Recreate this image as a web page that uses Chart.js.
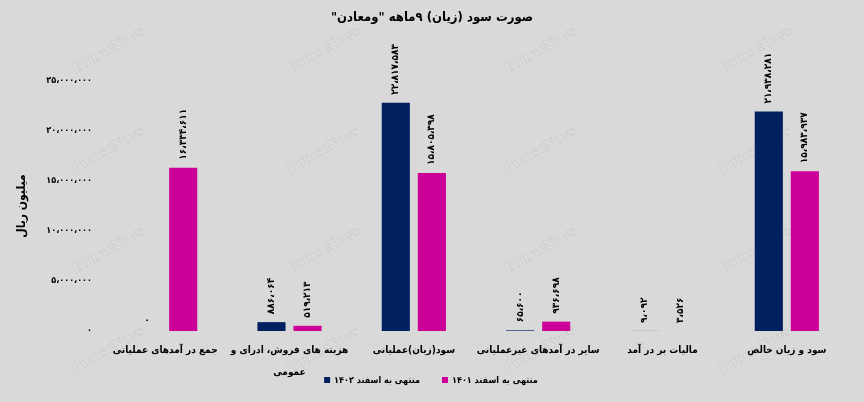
<!DOCTYPE html>
<html>
<head>
<meta charset="utf-8">
<script src="https://cdn.jsdelivr.net/npm/chart.js@4/dist/chart.umd.min.js"></script>
<style>
  html, body { margin: 0; padding: 0; background: #d9d9d9; }
  #wrap { width: 864px; height: 402px; }
</style>
</head>
<body>
<div id="wrap"><canvas id="profitChart"></canvas></div>
<script>
// Chart data
const categories = [
  "جمع در آمدهای عملیاتی",
  ["هزینه های فروش، ادرای و", "عمومی"],
  "سود(زیان)عملیاتی",
  "سایر در آمدهای غیرعملیاتی",
  "مالیات بر در آمد",
  "سود و زیان خالص"
];
const seriesNames = ["منتهی به اسفند ۱۴۰۲", "منتهی به اسفند ۱۴۰۱"];
const values1402 = [0, 886064, 22817583, 65600, 9092, 21938281];
const values1401 = [16334611, 519213, 15805398, 936698, 3526, 15983937];
const yTicks = [0, 5000000, 10000000, 15000000, 20000000, 25000000];

const titleText = "صورت سود (زیان) ۹ماهه \"ومعادن\"";
const yAxisTitle = "میلیون ریال";
const FONT = "'DejaVu Sans Condensed', 'DejaVu Sans', sans-serif";

// Persian digits with Arabic comma separators
function toFa(n) {
  const s = Math.round(n).toString().replace(/\B(?=(\d{3})+(?!\d))/g, "،");
  return s.replace(/\d/g, d => "۰۱۲۳۴۵۶۷۸۹"[d]);
}

// background, watermark, title, legend
const decorPlugin = {
  id: "decor",
  beforeDraw(chart) {
    const c = chart.ctx;
    c.save();
    c.fillStyle = "#d9d9d9";
    c.fillRect(0, 0, chart.width, chart.height);
    c.font = "bold 15px 'Liberation Serif', serif";
    c.fillStyle = "#e2e2e2";
    c.strokeStyle = "rgba(185,185,185,0.45)";
    c.lineWidth = 0.6;
    c.textAlign = "center";
    c.textBaseline = "middle";
    [108, 323, 540, 755].forEach(x => {
      [50, 150, 250, 350].forEach(y => {
        c.save();
        c.translate(x, y);
        c.rotate(-Math.PI / 6);
        c.fillText("BourseNews", 0, 0);
        c.strokeText("BourseNews", 0, 0);
        c.restore();
      });
    });
    c.restore();
  },
  afterDraw(chart) {
    const c = chart.ctx;
    c.save();
    c.direction = "rtl";
    c.font = "bold 13px " + FONT;
    c.fillStyle = "#000";
    c.textAlign = "center";
    c.textBaseline = "middle";
    c.fillText(titleText, 432, 18);

    // legend: box on the left of each item, items left to right
    c.font = "bold 9px " + FONT;
    const box = 6, gap = 4, itemGap = 22;
    const items = chart.data.datasets.map(ds => ({
      text: ds.label, color: ds.backgroundColor, w: c.measureText(ds.label).width
    }));
    const total = items.reduce((s, it) => s + box + gap + it.w, 0) + itemGap * (items.length - 1);
    let x = 431 - total / 2;
    const y = 381;
    items.forEach(it => {
      c.fillStyle = it.color;
      c.fillRect(x, y - box / 2 - 1, box, box);
      c.fillStyle = "#000";
      c.textAlign = "right";
      c.fillText(it.text, x + box + gap + it.w, y);
      x += box + gap + it.w + itemGap;
    });
    c.restore();
  }
};

// vertical value labels above each bar
const valueLabels = {
  id: "valueLabels",
  afterDatasetsDraw(chart) {
    const c = chart.ctx;
    c.save();
    c.font = "bold 10px " + FONT;
    c.fillStyle = "#000";
    c.textAlign = "left";
    c.textBaseline = "middle";
    chart.data.datasets.forEach((ds, i) => {
      chart.getDatasetMeta(i).data.forEach((bar, j) => {
        c.save();
        c.translate(bar.x, bar.y - 8);
        c.rotate(-Math.PI / 2);
        c.fillText(toFa(ds.data[j]), 0, 0);
        c.restore();
      });
    });
    c.restore();
  }
};

new Chart(document.getElementById("profitChart"), {
  type: "bar",
  data: {
    labels: categories,
    datasets: [
      { label: seriesNames[0], data: values1402, backgroundColor: "#002060" },
      { label: seriesNames[1], data: values1401, backgroundColor: "#cc0099" }
    ]
  },
  options: {
    responsive: true,
    maintainAspectRatio: false,
    animation: false,
    layout: { padding: { top: 81, right: 15, bottom: 11, left: 0 } },
    datasets: { bar: { categoryPercentage: 0.58, barPercentage: 0.78 } },
    scales: {
      x: {
        grid: { display: false, drawTicks: false },
        border: { display: false },
        ticks: {
          color: "#000",
          padding: 8,
          maxRotation: 0,
          autoSkip: false,
          font: { family: FONT, size: 10, weight: "bold", lineHeight: 2.2 }
        },
        afterFit(axis) { axis.height = 60; }
      },
      y: {
        min: 0,
        max: 25000000,
        grid: { display: false, drawTicks: false },
        border: { display: false },
        afterBuildTicks(axis) { axis.ticks = yTicks.map(v => ({ value: v })); },
        ticks: {
          color: "#000",
          padding: 11,
          font: { family: FONT, size: 9, weight: "bold" },
          callback: v => toFa(v)
        },
        title: {
          display: true,
          text: yAxisTitle,
          color: "#000",
          padding: { top: 15, bottom: 0 },
          font: { family: FONT, size: 12, weight: "bold" }
        },
        afterFit(axis) { axis.width = 103; }
      }
    },
    plugins: {
      legend: { display: false },
      tooltip: { enabled: false }
    }
  },
  plugins: [decorPlugin, valueLabels]
});
</script>
</body>
</html>
